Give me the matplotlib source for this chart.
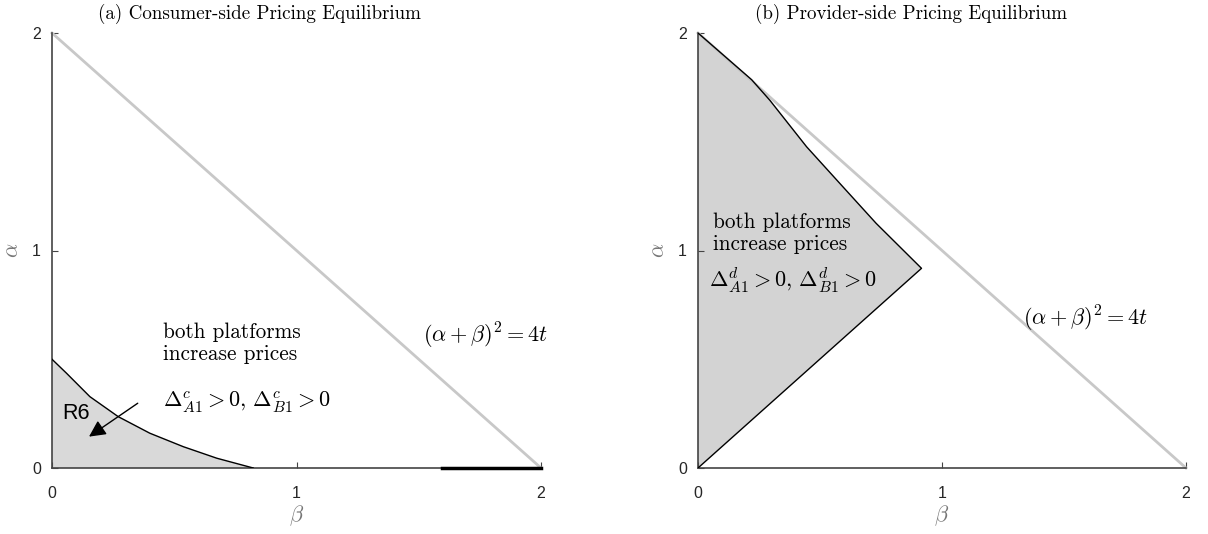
import matplotlib
matplotlib.use("Agg")
import matplotlib.pyplot as plt

plt.rcParams['mathtext.fontset'] = 'cm'
plt.rcParams['font.family'] = ['Liberation Sans', 'DejaVu Sans']

# boundary of the region in panel (a)
consumer_beta = [0.0, 0.06, 0.155, 0.271, 0.40, 0.537, 0.674, 0.823]
consumer_alpha = [0.50, 0.435, 0.328, 0.236, 0.16, 0.098, 0.045, 0.0]
# black segment on the beta axis in panel (a)
consumer_axis_seg = [1.595, 2.0]

# boundary of the region in panel (b): upper edge, then apex back to origin
provider_beta = [0.0, 0.22, 0.295, 0.445, 0.58, 0.73, 0.916, 0.0]
provider_alpha = [2.0, 1.785, 1.69, 1.477, 1.31, 1.125, 0.918, 0.0]

# (alpha + beta)^2 = 4t line
line_beta = [0.0, 2.0]
line_alpha = [2.0, 0.0]

ticks = [0, 1, 2]
titles = ['(a) Consumer-side Pricing Equilibrium', '(b) Provider-side Pricing Equilibrium']
title_x = [0.425, 0.436]

serif = 'cmr10'
txt_size = 15.3
math_size = 16

fig = plt.figure(figsize=(12.08, 5.34), dpi=100)
ax1 = fig.add_axes([52 / 1208, 66 / 534, 489 / 1208, 435 / 534])
ax2 = fig.add_axes([698 / 1208, 66 / 534, 488 / 1208, 435 / 534])


def style_axes(ax, title, tx):
    ax.set_xlim(0, 2)
    ax.set_ylim(0, 2)
    for s in ['top', 'right']:
        ax.spines[s].set_visible(False)
    for s in ['left', 'bottom']:
        ax.spines[s].set_color('#444444')
        ax.spines[s].set_linewidth(1.2)
    ax.set_xticks(ticks)
    ax.set_yticks(ticks)
    ax.tick_params(direction='in', length=4, width=0.8, colors='#444444',
                   labelcolor='#262626', labelsize=11.5)
    ax.tick_params(axis='x', pad=13)
    ax.tick_params(axis='y', pad=8)
    ax.set_xlabel(r'$\beta$', fontsize=16, color='#777777', labelpad=2)
    ax.set_ylabel(r'$\alpha$', fontsize=16, color='#777777', labelpad=6)
    ax.set_title(title, fontfamily=serif, fontsize=13.7, pad=10, x=tx)
    ax.plot(line_beta, line_alpha, color='#c8c8c8', lw=2, clip_on=False, zorder=2)


# panel (a)
style_axes(ax1, titles[0], title_x[0])
ax1.fill(consumer_beta + [0.0], consumer_alpha + [0.0], color='#d9d9d9', lw=0, zorder=1)
ax1.plot(consumer_beta, consumer_alpha, color='black', lw=1, zorder=3)
ax1.plot(consumer_axis_seg, [0, 0], color='black', lw=2.5, clip_on=False, zorder=4)
ax1.text(0.10, 0.25, 'R6', fontsize=15.5, ha='center', va='center', zorder=5)
ax1.annotate('', xy=(0.142, 0.137), xytext=(0.36, 0.305),
             arrowprops=dict(arrowstyle='-|>', color='black', lw=1,
                             mutation_scale=25), zorder=5)
ax1.text(0.455, 0.497, 'both platforms\nincrease prices', fontfamily=serif,
         fontsize=txt_size, ha='left', va='baseline', linespacing=1.18)
ax1.text(0.455, 0.28, r'$\Delta^c_{A1} > 0,\, \Delta^c_{B1} > 0$',
         fontsize=math_size, ha='left', va='baseline')
ax1.text(1.517, 0.575, r'$(\alpha+\beta)^2 = 4t$', fontsize=math_size,
         ha='left', va='baseline')

# panel (b)
style_axes(ax2, titles[1], title_x[1])
ax2.fill(provider_beta, provider_alpha, color='#d3d3d3', lw=0, zorder=1)
ax2.plot(provider_beta, provider_alpha, color='black', lw=1, zorder=3)
ax2.text(0.061, 1.0, 'both platforms\nincrease prices', fontfamily=serif,
         fontsize=txt_size, ha='left', va='baseline', linespacing=1.18)
ax2.text(0.045, 0.832, r'$\Delta^d_{A1} > 0,\, \Delta^d_{B1} > 0$',
         fontsize=math_size, ha='left', va='baseline')
ax2.text(1.33, 0.655, r'$(\alpha+\beta)^2 = 4t$', fontsize=math_size,
         ha='left', va='baseline')

fig.savefig('out.png', dpi=100)
